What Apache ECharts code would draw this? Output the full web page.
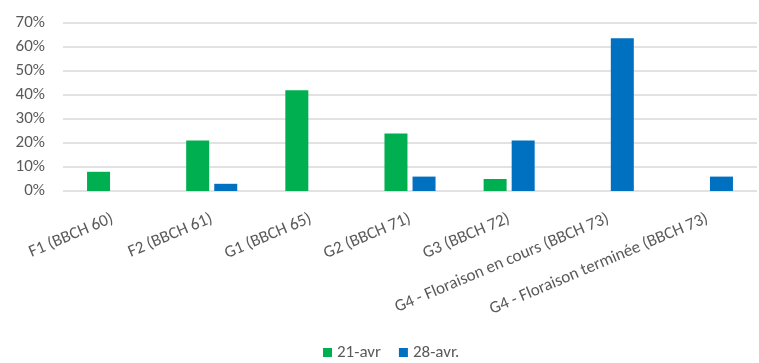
<!DOCTYPE html>
<html>
<head>
<meta charset="utf-8">
<script src="https://cdn.jsdelivr.net/npm/echarts@6/dist/echarts.min.js"></script>
<style>
  html, body { margin: 0; padding: 0; background: #fff; }
  #chart { width: 759px; height: 363px; }
</style>
</head>
<body>
<div id="chart"></div>
<script>
// Stades phénologiques observés (part des observations, %)
const categories = [
  'F1 (BBCH 60)',
  'F2 (BBCH 61)',
  'G1 (BBCH 65)',
  'G2 (BBCH 71)',
  'G3 (BBCH 72)',
  'G4 - Floraison en cours (BBCH 73)',
  'G4 - Floraison terminée (BBCH 73)'
];
const seriesNames = ['21-avr', '28-avr.'];
const avr21 = [8, 21, 42, 24, 5, 0, 0];
const avr28 = [0, 3, 0, 6, 21, 63.6, 6];
const yTicks = [0, 10, 20, 30, 40, 50, 60, 70];

const font = "Carlito, Calibri, Lato, 'Liberation Sans', sans-serif";
const textGray = '#595959';

const chart = echarts.init(document.getElementById('chart'), null, { renderer: 'canvas' });

chart.setOption({
  animation: false,
  textStyle: { fontFamily: font },
  grid: { left: 63, right: 2, top: 23, bottom: 172, containLabel: false },
  legend: {
    data: seriesNames,
    top: 339,
    left: 318,
    itemWidth: 9,
    itemHeight: 9,
    itemGap: 18,
    icon: 'rect',
    textStyle: { color: textGray, fontSize: 17, fontFamily: font }
  },
  xAxis: {
    type: 'category',
    data: categories,
    axisLine: { show: false },
    axisTick: { show: false },
    axisLabel: {
      rotate: 23,
      interval: 0,
      color: textGray,
      fontSize: 17,
      margin: 27,
      fontFamily: font
    }
  },
  yAxis: {
    type: 'value',
    min: yTicks[0],
    max: yTicks[yTicks.length - 1],
    interval: 10,
    axisLine: { show: false },
    axisTick: { show: false },
    splitLine: { lineStyle: { color: '#d9d9d9', width: 1.5 } },
    axisLabel: {
      color: textGray,
      fontSize: 17,
      margin: 18,
      fontFamily: font,
      formatter: v => v + '%'
    }
  },
  series: [
    {
      name: seriesNames[0],
      type: 'bar',
      data: avr21,
      barWidth: 23,
      barGap: '22%',
      itemStyle: { color: '#00b050' }
    },
    {
      name: seriesNames[1],
      type: 'bar',
      data: avr28,
      barWidth: 23,
      barGap: '22%',
      itemStyle: { color: '#0070c0' }
    }
  ]
});
</script>
</body>
</html>
